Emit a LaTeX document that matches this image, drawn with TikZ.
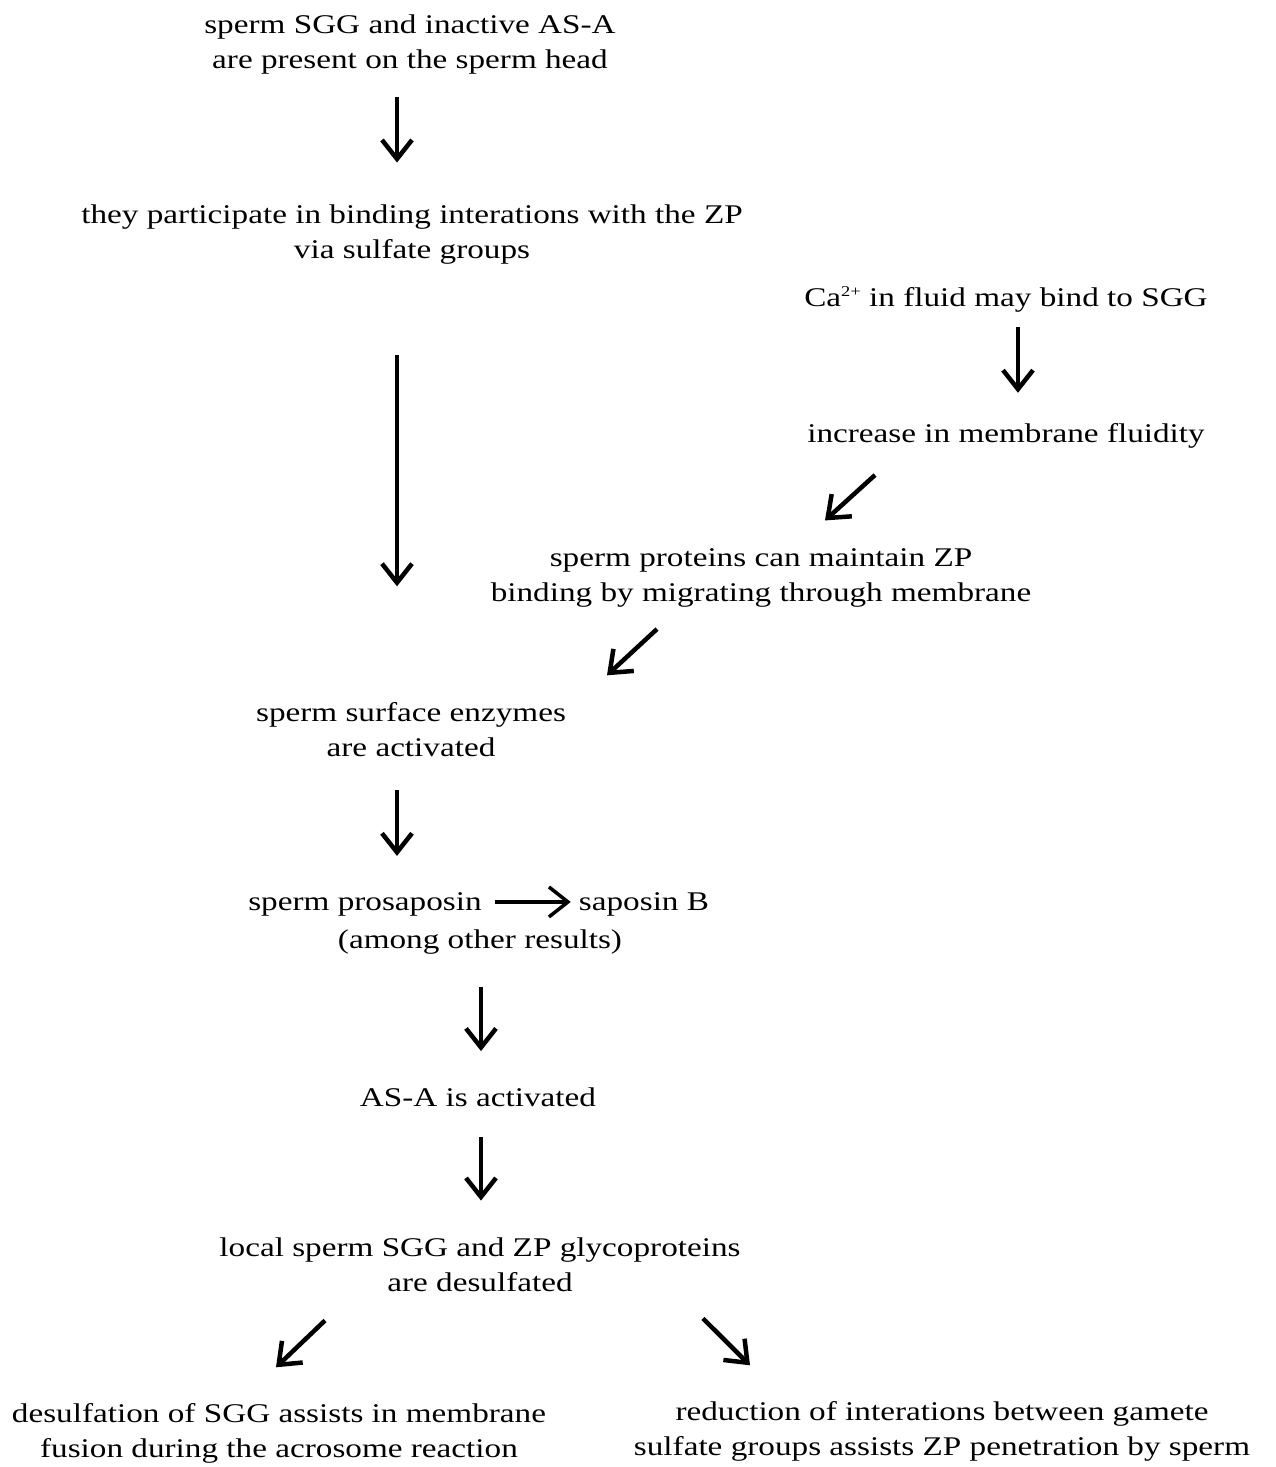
\documentclass[tikz,border=0pt]{standalone}
\usepackage{fontspec}
\setmainfont[FakeStretch=1.23]{Liberation Serif}
\usetikzlibrary{arrows.meta, positioning}

\tikzset{
  txt/.style={align=center, inner sep=0pt, anchor=base, font=\fontsize{27}{34.5}\selectfont},
  flow/.style={line width=4.5pt, -{Straight Barb[length=19pt, width=30pt]}},
}

\begin{document}
\begin{tikzpicture}[x=1pt, y=-1pt]
  \useasboundingbox (0,0) rectangle (1275,1467);

  %--------------------------------------------------------------------
  \node(sgg) [txt] at (410,68) {sperm SGG and inactive AS-A \\ are present on the sperm head};
  \node(part) [txt] at (412,258) {they participate in binding interations with the ZP \\ via sulfate groups};

  \node(ca) [txt] at (1006,306) {Ca\raisebox{10pt}{\fontsize{15}{15}\selectfont 2+} in fluid may bind to SGG};
  \node(fluid) [txt] at (1006,442) {increase in membrane fluidity};
  \node(prot) [txt] at (761,601) {sperm proteins can maintain ZP \\ binding by migrating through membrane};

  %--------------------------------------------------------------------
  \node(enz) [txt] at (411,756) {sperm surface enzymes \\ are activated};
  \node(pros) [txt] at (365,910) {sperm prosaposin};
  \node(sapb) [txt] at (644,910) {saposin B};
  \node(among) [txt] at (480,948) {(among other results)};
  \node(asa) [txt] at (478,1106) {AS-A is activated};
  \node(desulf) [txt] at (480,1291) {local sperm SGG and ZP glycoproteins \\ are desulfated};

  %--------------------------------------------------------------------
  \node(fusion) [txt] at (279,1457) {desulfation of SGG assists in membrane \\ fusion during the acrosome reaction};
  \node(penet) [txt] at (942,1455) {reduction of interations between gamete \\ sulfate groups assists ZP penetration by sperm};

  %--------------------------------------------------------------------
  \draw[flow, shorten <=23pt, shorten >=42pt] ([xshift=-13pt]sgg.south) -- ([xshift=-15pt]part.north);
  \draw[flow, shorten <=91pt, shorten >=116pt] ([xshift=-15pt]part.south) -- ([xshift=-14pt]enz.north);
  \draw[flow, shorten <=15pt, shorten >=30pt] ([xshift=12pt]ca.south) -- ([xshift=12pt]fluid.north);
  \draw[flow] ([xshift=-131pt, yshift=-27pt]fluid.south) -- ([xshift=64pt, yshift=28pt]prot.north);
  \draw[flow] ([xshift=-104pt, yshift=-22pt]prot.south) -- ([xshift=196pt, yshift=27pt]enz.north);
  \draw[flow, shorten <=34pt, shorten >=36pt] ([xshift=-14pt]enz.south) -- ([xshift=32pt]pros.north);
  \draw[flow, line width=3.5pt, shorten <=13pt, shorten >=8pt] ([yshift=2pt]pros.east) -- ([yshift=2pt]sapb.west);
  \draw[flow, shorten <=33pt, shorten >=36pt] ([xshift=1pt]among.south) -- ([xshift=3pt]asa.north);
  \draw[flow, shorten <=31pt, shorten >=37pt] ([xshift=3pt]asa.south) -- ([xshift=1pt]desulf.north);
  \draw[flow] ([xshift=-155pt, yshift=-29pt]desulf.south) -- ([xshift=-3pt, yshift=36pt]fusion.north);
  \draw[flow] ([xshift=223pt, yshift=-27pt]desulf.south) -- ([xshift=-192pt, yshift=36pt]penet.north);
\end{tikzpicture}
\end{document}
